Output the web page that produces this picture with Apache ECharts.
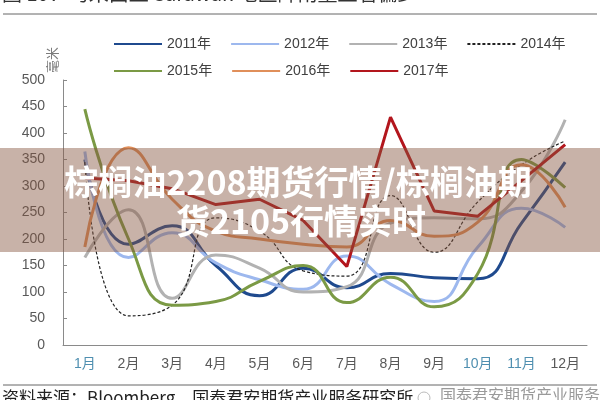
<!DOCTYPE html>
<html>
<head>
<meta charset="utf-8">
<script src="https://cdn.jsdelivr.net/npm/echarts@6/dist/echarts.min.js"></script>
<style>
html,body{margin:0;padding:0;background:#fff;}
#c{width:600px;height:400px;}
</style>
</head>
<body>
<div id="c"></div>
<script>
var months = ['1月','2月','3月','4月','5月','6月','7月','8月','9月','10月','11月','12月'];
var yTicks = [0, 500, 50];
var s2011 = [350, 190, 225, 150, 93, 145, 108, 135, 127, 125, 230, 345];
var s2012 = [365, 165, 212, 155, 123, 105, 168, 115, 82, 185, 258, 222];
var s2013 = [165, 255, 88, 170, 145, 100, 110, 230, 240, 238, 290, 425];
var s2014 = [345, 55, 75, 240, 215, 140, 130, 282, 175, 270, 340, 385];
var s2015 = [445, 200, 75, 82, 120, 150, 80, 128, 72, 135, 350, 297];
var s2016 = [185, 372, 275, 215, 200, 190, 185, 235, 205, 232, 340, 260];
var s2017 = [315, 310, 295, 265, 275, 235, 148, 430, 253, 243, 310, 378];
var names = ['2011年','2012年','2013年','2014年','2015年','2016年','2017年'];
var titleTop = '图 10：马来西亚 Sarawak 地区降雨量显著偏少';
var sourceText = '资料来源：Bloomberg，国泰君安期货产业服务研究所';
var watermark = '国泰君安期货产业服务';
var bandLine1 = '棕榈油2208期货行情/棕榈油期';
var bandLine2 = '货2105行情实时';
var unitText = '毫米';

var colors = ['#1f4a8e','#9db8ee','#b2b2b2','#222222','#7b9a45','#e08f5a','#b3161d'];
var blueLabels = {'1月':1,'10月':1,'11月':1};

var chart = echarts.init(document.getElementById('c'), null, {renderer:'canvas'});

function mk(i, data, extra) {
  var o = {
    name: names[i], type: 'line', data: data, smooth: 0.5,
    symbol: 'none', showSymbol: false,
    lineStyle: {color: colors[i], width: 3},
    itemStyle: {color: colors[i]},
    z: 2
  };
  for (var k in extra) o[k] = extra[k];
  return o;
}

var legendCommon = {
  left: 108, itemWidth: 48, itemHeight: 14, itemGap: 19,
  itemStyle: {opacity: 0},
  textStyle: {fontSize: 14, color: '#404040', fontFamily: 'Liberation Sans, Noto Sans CJK SC'}
};
function lg(data, top) {
  var o = {data: data, top: top};
  for (var k in legendCommon) o[k] = legendCommon[k];
  return o;
}

var option = {
  animation: false,
  textStyle: {fontFamily: 'Liberation Sans, Arial, sans-serif'},
  grid: {left: 63, right: 13, top: 80, bottom: 55},
  legend: [lg(names.slice(0,4), 32), lg(names.slice(4), 59)],
  xAxis: {
    type: 'category', boundaryGap: true,
    data: months.map(function(m){ return {value: m, textStyle: {color: blueLabels[m] ? '#4f8fb0' : '#595959'}}; }),
    axisLine: {lineStyle: {color: '#8a8a8a', width: 1}},
    axisTick: {inside: true, length: 4, lineStyle: {color: '#8a8a8a'}},
    axisLabel: {fontSize: 14, margin: 12, fontFamily: 'Liberation Sans, Noto Sans CJK SC'}
  },
  yAxis: {
    type: 'value', min: yTicks[0], max: yTicks[1], interval: yTicks[2],
    axisLine: {show: true, lineStyle: {color: '#8a8a8a', width: 1}},
    axisTick: {show: true, inside: true, length: 4, lineStyle: {color: '#8a8a8a'}},
    splitLine: {show: false},
    axisLabel: {fontSize: 14, color: '#595959', margin: 18}
  },
  series: [
    mk(0, s2011, {}),
    mk(1, s2012, {}),
    mk(2, s2013, {}),
    mk(3, s2014, {lineStyle: {color: colors[3], width: 1.2, type: [3,2]}}),
    mk(4, s2015, {}),
    mk(5, s2016, {}),
    mk(6, s2017, {smooth: false})
  ],
  graphic: [
    {type: 'text', left: 2, top: -17, z: 10,
     style: {text: titleTop, font: '20px "Noto Sans CJK SC"', fill: '#333'}},
    {type: 'line', shape: {x1: 3, y1: 14, x2: 597, y2: 14}, style: {stroke: '#666', lineWidth: 1}, z: 10},
    {type: 'line', shape: {x1: 3, y1: 385, x2: 597, y2: 385}, style: {stroke: '#666', lineWidth: 1}, z: 10},
    {type: 'text', left: 2, top: 389, z: 10,
     style: {text: sourceText, font: '17px "Noto Sans CJK SC"', fill: '#222'}},
    {type: 'text', left: 440, top: 387, z: 10,
     style: {text: watermark, font: '16px "Noto Sans CJK SC"', fill: '#9a9a9a'}},
    {type: 'circle', shape: {cx: 424, cy: 398, r: 6}, style: {fill: 'none', stroke: '#bbb', lineWidth: 1}, z: 10},
    {type: 'text', x: 52, y: 60, rotation: Math.PI/2, z: 10,
     style: {text: unitText, font: '13px "Noto Sans CJK SC"', fill: '#7a7a7a', align: 'center', verticalAlign: 'middle'}},
    {type: 'rect', shape: {x: 0, y: 148, width: 600, height: 104}, style: {fill: 'rgba(133,84,62,0.45)'}, z: 20},
    {type: 'text', x: 298, y: 182, z: 21,
     style: {text: bandLine1, font: 'bold 34px "Noto Sans CJK SC"', fill: '#fff', align: 'center', verticalAlign: 'middle'}},
    {type: 'text', x: 301, y: 221, z: 21,
     style: {text: bandLine2, font: 'bold 34px "Noto Sans CJK SC"', fill: '#fff', align: 'center', verticalAlign: 'middle'}}
  ]
};
chart.setOption(option);
</script>
</body>
</html>
